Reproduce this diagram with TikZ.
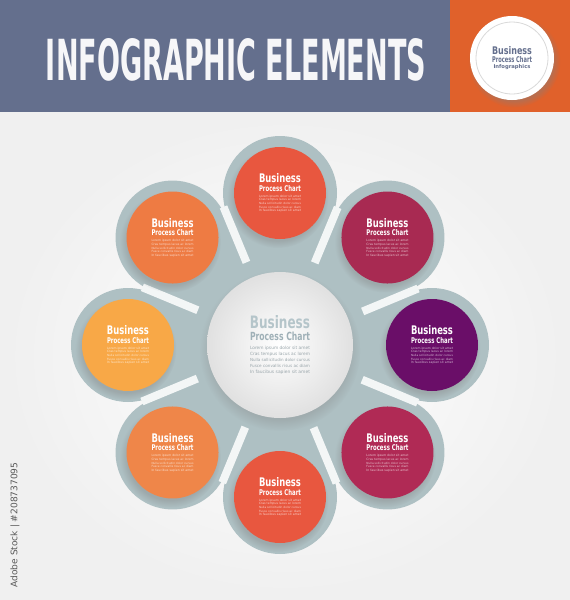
\documentclass[tikz,border=0pt]{standalone}
\usepackage{fontspec}
\setmainfont{DejaVu Sans}
\usepackage{graphicx}
\usetikzlibrary{positioning,shadows,backgrounds}

\definecolor{slate}{HTML}{646F8D}
\definecolor{rust}{HTML}{E0612B}
\definecolor{ringgray}{HTML}{AEC0C3}
\definecolor{tomato}{HTML}{E8573F}
\definecolor{tangerine}{HTML}{EE7B43}
\definecolor{apricot}{HTML}{EF8649}
\definecolor{amber}{HTML}{F8A847}
\definecolor{berry}{HTML}{A82A52}
\definecolor{raspberry}{HTML}{B02A55}
\definecolor{plum}{HTML}{6A0E68}
\definecolor{hubhead}{HTML}{B5C5CA}
\definecolor{hubsub}{HTML}{9FB0B7}
\definecolor{hublorem}{HTML}{9AA6AB}

\newcommand{\loremlines}[2]{%
  \resizebox{#1}{!}{\color{#2}Lorem ipsum dolor sit amet}\\
  \resizebox{#1}{!}{\color{#2}Cras tempus lacus ac lorem}\\
  \resizebox{#1}{!}{\color{#2}Nulla sollicitudin dolor cursus}\\
  \resizebox{#1}{!}{\color{#2}Fusce convallis risus ac diam}\\
  \resizebox{#1}{!}{\color{#2}In faucibus sapien sit amet}}
\newcommand{\petaltext}[1]{%
  \resizebox{42pt}{9pt}{\bfseries Business}\\[1.5pt]
  \resizebox{42pt}{6pt}{\bfseries Process Chart}\\[2.5pt]
  \loremlines{42pt}{white!70!#1}}
\newcommand{\hubtext}{%
  \resizebox{60pt}{13pt}{\color{hubhead}\bfseries Business}\\[2pt]
  \resizebox{60pt}{8.5pt}{\color{hubsub}\bfseries Process Chart}\\[3pt]
  \loremlines{60pt}{hublorem}}
\newcommand{\badgetext}{%
  \resizebox{40pt}{8pt}{\bfseries Business}\\[1pt]
  \resizebox{40pt}{6pt}{\bfseries Process Chart}\\[1pt]
  \resizebox{37pt}{!}{\bfseries Infographics}}

\begin{document}
\begin{tikzpicture}[x=1pt,y=-1pt,node distance=152pt,
    petal/.style={circle,fill=#1,minimum size=92pt,inner sep=0pt,text=white,align=center,
      font=\fontsize{4}{3.6}\selectfont,
      circular drop shadow={shadow xshift=-2pt,shadow yshift=-4pt,opacity=0.35}},
    hub/.style={circle,minimum size=146pt,inner sep=0pt,align=center,
      shading=radial,inner color=white,outer color=black!12,
      font=\fontsize{7}{6}\selectfont,
      circular drop shadow={shadow xshift=0pt,shadow yshift=-5pt,opacity=0.3}},
    badge/.style={circle,fill=white,minimum size=84pt,inner sep=0pt,align=center,text=slate,
      font=\fontsize{5}{5}\selectfont,
      circular drop shadow={shadow xshift=2pt,shadow yshift=-3pt,opacity=0.4}},
    neck/.style={draw=ringgray,line width=80pt},
    slit/.style={draw=white!85!ringgray,line width=8pt}]

  \useasboundingbox (0,0) rectangle (570,600);

  % header band
  \fill[slate] (0,0) rectangle (450,112);
  \fill[rust] (450,0) rectangle (570,112);
  \node[text=white!94!slate,inner sep=0pt] (title) at (236,60)
    {\resizebox{380pt}{42pt}{\bfseries INFOGRAPHIC ELEMENTS}};
  \node[badge] (badge) at (512,58) {\badgetext};
  \draw[black!15,line width=0.8pt] (badge) circle (36pt);

  % chart
  \node[hub] (hub) at (280,345) {\hubtext};
  \node[petal=tomato] (p1) [above of=hub] {\petaltext{tomato}};
  \node[petal=berry] (p2) [above right of=hub] {\petaltext{berry}};
  \node[petal=plum] (p3) [right of=hub] {\petaltext{plum}};
  \node[petal=raspberry] (p4) [below right of=hub] {\petaltext{raspberry}};
  \node[petal=tomato] (p5) [below of=hub] {\petaltext{tomato}};
  \node[petal=apricot] (p6) [below left of=hub] {\petaltext{apricot}};
  \node[petal=amber] (p7) [left of=hub] {\petaltext{amber}};
  \node[petal=tangerine] (p8) [above left of=hub] {\petaltext{tangerine}};

  \node[rotate=90,text=black!65,inner sep=0pt] (stock) at (15,525)
    {\resizebox{125pt}{!}{Adobe Stock | \#208737095}};

  \begin{scope}[on background layer]
    \shade[inner color=white,outer color=black!6] (0,112) rectangle (570,600);
    \fill[ringgray] (hub) circle (130pt);
    \path[every edge/.style=neck]
      (hub) edge (p1) edge (p2) edge (p3) edge (p4)
            edge (p5) edge (p6) edge (p7) edge (p8);
    \fill[ringgray] (p1) circle (57pt);
    \fill[ringgray] (p2) circle (57pt);
    \fill[ringgray] (p3) circle (57pt);
    \fill[ringgray] (p4) circle (57pt);
    \fill[ringgray] (p5) circle (57pt);
    \fill[ringgray] (p6) circle (57pt);
    \fill[ringgray] (p7) circle (57pt);
    \fill[ringgray] (p8) circle (57pt);
    % white gaps between the petals
    \draw[slit] (hub.22.5) ++(22.5:16pt) -- ++(22.5:60pt);
    \draw[slit] (hub.67.5) ++(67.5:16pt) -- ++(67.5:60pt);
    \draw[slit] (hub.112.5) ++(112.5:16pt) -- ++(112.5:60pt);
    \draw[slit] (hub.157.5) ++(157.5:16pt) -- ++(157.5:60pt);
    \draw[slit] (hub.202.5) ++(202.5:16pt) -- ++(202.5:60pt);
    \draw[slit] (hub.247.5) ++(247.5:16pt) -- ++(247.5:60pt);
    \draw[slit] (hub.292.5) ++(292.5:16pt) -- ++(292.5:60pt);
    \draw[slit] (hub.337.5) ++(337.5:16pt) -- ++(337.5:60pt);
  \end{scope}
\end{tikzpicture}
\end{document}
